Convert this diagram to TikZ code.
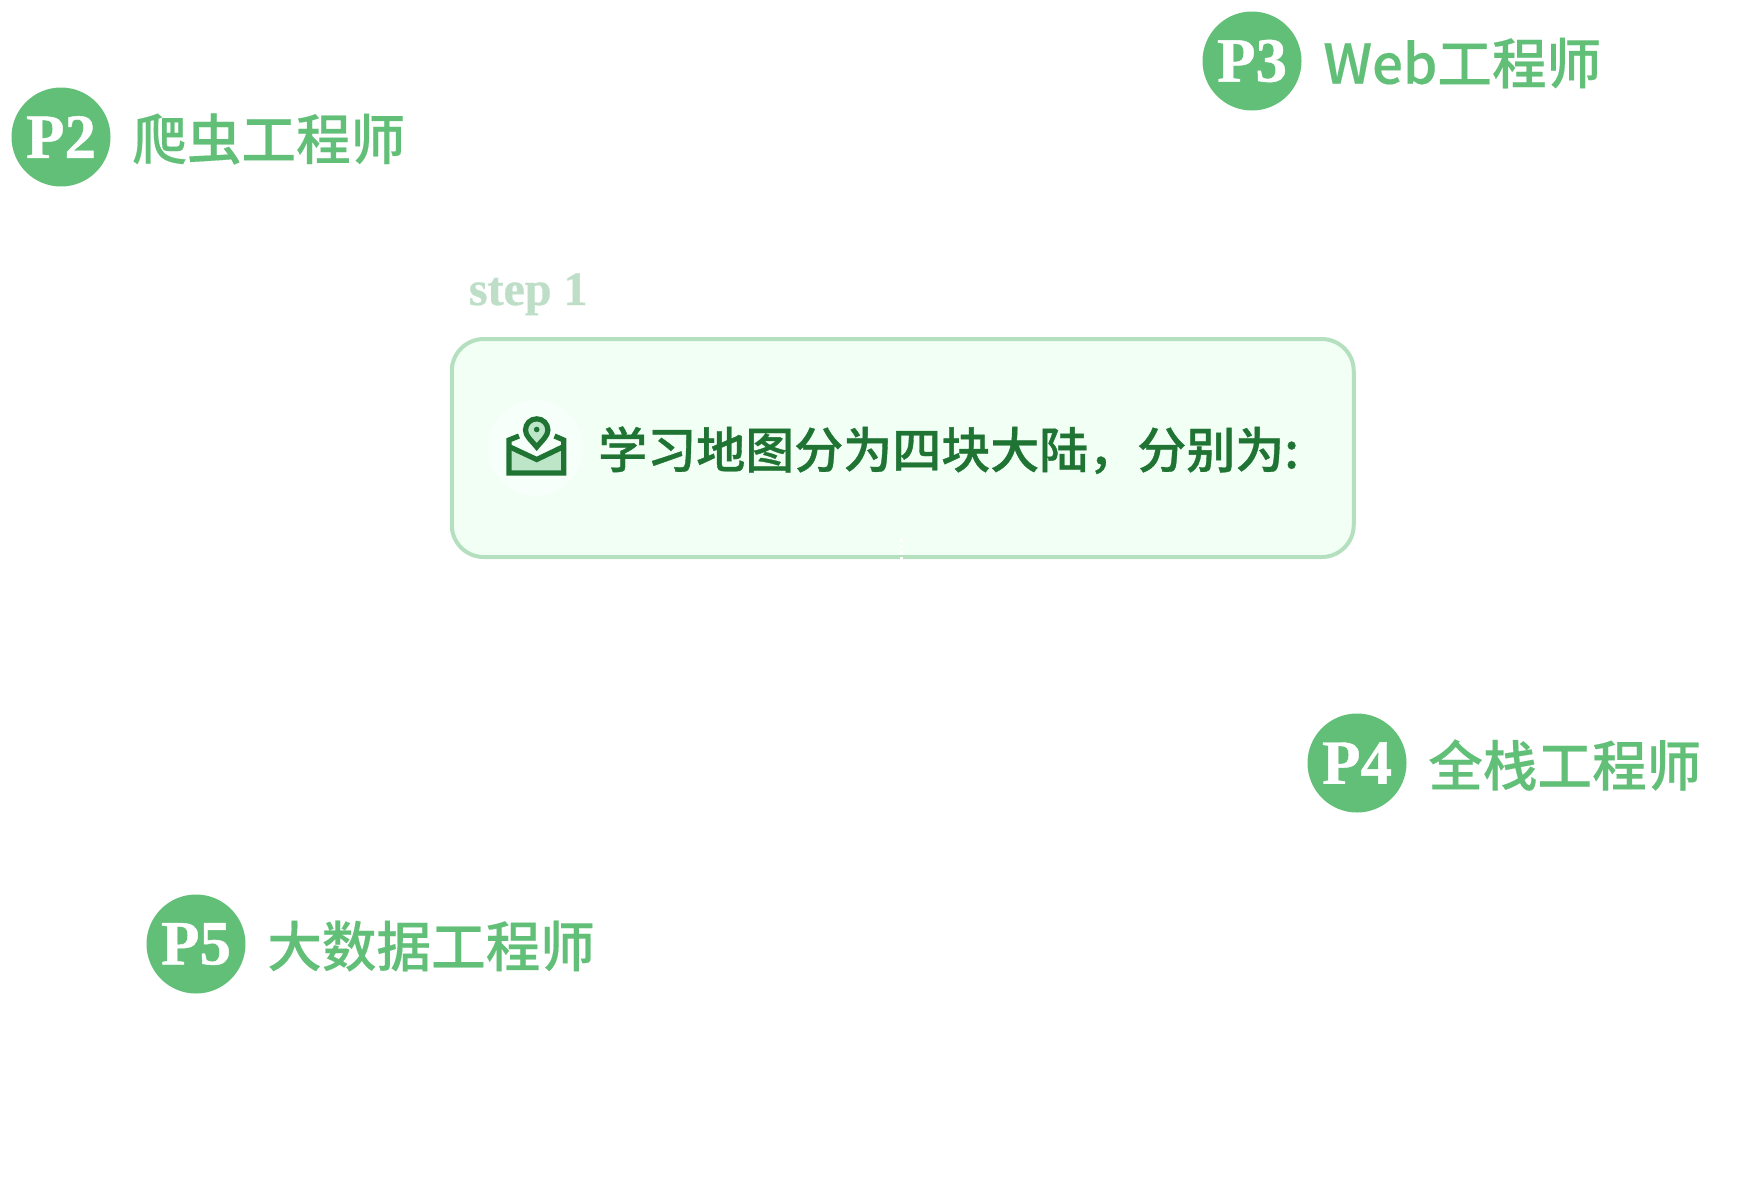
\documentclass[tikz,border=0pt]{standalone}
\usepackage{fontspec}
\usepackage{xcolor}
\usetikzlibrary{positioning}
\setmainfont{Liberation Serif}[BoldFeatures={FakeBold=0.7}]
\newfontfamily\cjk[FakeBold=0.3]{Noto Sans CJK SC Medium}
\newfontfamily\cjkheavy[FakeBold=0.7]{Noto Sans CJK SC Medium}
\definecolor{badgegreen}{HTML}{62BF78}
\definecolor{panelfill}{HTML}{F1FFF5}
\definecolor{panelline}{HTML}{B4E0BF}
\definecolor{darkgreen}{HTML}{1F7333}
\definecolor{stepgreen}{HTML}{BEDEC8}
\definecolor{lightgreen}{HTML}{BDE6C8}
\definecolor{halofill}{HTML}{F6FFF9}
\tikzset{
     badge/.style={circle, fill=badgegreen, text=white, inner sep=0pt,
                   minimum size=49.5pt, font=\bfseries\fontsize{31.5}{31.5}\selectfont},
     role/.style={text=badgegreen, inner sep=0pt, yshift=-1pt, font=\cjk\fontsize{27.3}{30}\selectfont}
     }

\begin{document}
\begin{tikzpicture}[x=0.5pt,y=-0.5pt]
\tikzstyle{panel} = [rectangle, draw=panelline, line width=2pt, fill=panelfill,
rounded corners=16pt, minimum width=451pt, minimum height=109pt, inner sep=0pt]
\tikzstyle{icon} = [draw=darkgreen, line width=2.6pt, line join=miter]
\useasboundingbox (0,0) rectangle (1750,1196);

\node [badge] (P2) at (61,137) {P2};
\node [role,right=10.5pt of P2] (R2) {爬虫工程师};

\node [badge] (P3) at (1252,61) {P3};
\node [role,right=10.5pt of P3] (R3) {Web工程师};

\node [badge] (P4) at (1357,763) {P4};
\node [role,right=10.5pt of P4] (R4) {全栈工程师};

\node [badge] (P5) at (196,944) {P5};
\node [role,right=10.5pt of P5] (R5) {大数据工程师};

\node [panel] (box) at (902.75,448) {};
\node [text=stepgreen, inner sep=0pt, anchor=base west, font=\bfseries\fontsize{24}{24}\selectfont] (step1) at (468.5,305) {step 1};

\node [circle, fill=halofill, minimum size=48pt, inner sep=0pt] (halo) at (535.5,448) {};
\node [right=7pt of halo, yshift=-1.1pt, text=darkgreen, inner sep=0pt, font=\cjkheavy\fontsize{24.5}{28}\selectfont] (msg) {学习地图分为四块大陆，分别为:};

% envelope and pin
\fill [lightgreen] (509,446.5) -- (536.7,459.5) -- (563.7,446.5) -- (563.7,473) -- (509,473) -- cycle;
\draw [icon] (519,436) -- (509,440) -- (509,473) -- (563.7,473) -- (563.7,440) -- (554.5,436);
\draw [icon] (509,446.5) -- (536.7,459.5) -- (563.7,446.5);
\draw [icon, fill=lightgreen] (536.7,447) .. controls (531,440) and (525.5,436) .. (525.5,430) arc [start angle=180, end angle=0, radius=5.6pt] .. controls (547.9,436) and (542.4,440) .. (536.7,447) -- cycle;
\fill [darkgreen] (536.7,429.5) circle [radius=1.4pt];

% white ticks on the lower edge of the box
\draw [white, line width=1.7pt, dash pattern=on 1.6pt off 1.4pt] (901.7,538.5) -- (901.7,560);
\end{tikzpicture}
\end{document}
